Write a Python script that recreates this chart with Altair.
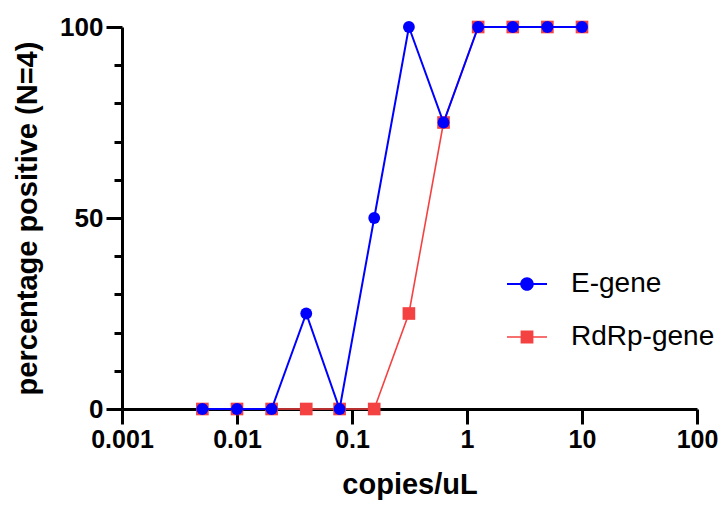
import altair as alt
import pandas as pd

conc = [0.005, 0.01, 0.02, 0.04, 0.078, 0.156, 0.3125, 0.625, 1.25, 2.5, 5, 10]
e_gene = [0, 0, 0, 25, 0, 50, 100, 75, 100, 100, 100, 100]
rdrp_gene = [0, 0, 0, 0, 0, 0, 25, 75, 100, 100, 100, 100]
series = ["E-gene", "RdRp-gene"]
colors = ["#0000FF", "#F44242"]
x_ticks = [0.001, 0.01, 0.1, 1, 10, 100]
y_ticks = [0, 10, 20, 30, 40, 50, 60, 70, 80, 90, 100]

df_e = pd.DataFrame({"conc": conc, "pct": e_gene, "series": "E-gene"})
df_r = pd.DataFrame({"conc": conc, "pct": rdrp_gene, "series": "RdRp-gene"})
df_all = pd.concat([df_e, df_r], ignore_index=True)

FONT = "Liberation Sans"

x_enc = alt.X(
    "conc:Q",
    scale=alt.Scale(type="log", domain=[0.001, 100]),
    axis=alt.Axis(
        title="copies/uL",
        values=x_ticks,
        labelExpr="datum.value >= 1 ? format(datum.value, 'd') : format(datum.value, '~g')",
        grid=False,
        ticks=True,
        domainColor="black",
        domainWidth=3,
        tickColor="black",
        tickWidth=3,
        tickSize=15,
        labelFont=FONT,
        labelFontSize=25,
        labelFontWeight="bold",
        labelColor="black",
        labelPadding=3,
        labelFlush=False,
        labelOverlap=False,
        titleFont=FONT,
        titleFontSize=29,
        titleFontWeight="bold",
        titleColor="black",
        titleBaseline="alphabetic",
        titleY=84,
    ),
)
y_enc = alt.Y(
    "pct:Q",
    scale=alt.Scale(domain=[0, 100], nice=False),
    axis=alt.Axis(
        title="percentage positive (N=4)",
        values=y_ticks,
        labelExpr="datum.value % 50 === 0 ? datum.label : ''",
        grid=False,
        ticks=True,
        domainColor="black",
        domainWidth=3,
        tickColor="black",
        tickWidth=3,
        tickSize={"condition": {"test": "datum.value % 50 === 0", "value": 16}, "value": 8},
        labelFont=FONT,
        labelFontSize=26,
        labelFontWeight="bold",
        labelColor="black",
        labelPadding=3,
        labelOverlap=False,
        titleFont=FONT,
        titleFontSize=29,
        titleFontWeight="bold",
        titleColor="black",
        titleX=-80,
    ),
)

red_line = alt.Chart(df_r).mark_line(color=colors[1], strokeWidth=1.6).encode(x=x_enc, y=y_enc)
red_pts = alt.Chart(df_r).mark_point(
    shape="square", filled=True, size=160, opacity=1, color=colors[1]
).encode(x=x_enc, y=y_enc)
blue_line = alt.Chart(df_e).mark_line(color=colors[0], strokeWidth=2).encode(x=x_enc, y=y_enc)
blue_pts = alt.Chart(df_e).mark_point(
    shape="circle", filled=True, size=140, opacity=1, color=colors[0]
).encode(x=x_enc, y=y_enc)

# legend symbols: horizontal line with marker
circle_sym = (
    "M-1,-0.05H-0.33V0.05H-1Z "
    "M0.33,-0.05H1V0.05H0.33Z "
    "M0.34,0A0.34,0.34 0 1,1 -0.34,0A0.34,0.34 0 1,1 0.34,0Z"
)
square_sym = (
    "M-1,-0.04H-0.32V0.04H-1Z "
    "M0.32,-0.04H1V0.04H0.32Z "
    "M-0.32,-0.32H0.32V0.32H-0.32Z"
)

legend_props = dict(
    title=None,
    orient="none",
    legendX=385,
    legendY=237,
    padding=0,
    rowPadding=19,
    labelOffset=24,
    labelFont=FONT,
    labelFontSize=28,
    labelColor="black",
    symbolStrokeWidth=0,
    symbolSize=1600,
    labelLimit=400,
)

legend_layer = alt.Chart(df_all).transform_filter("false").mark_point(
    filled=True, opacity=1, size=1600
).encode(
    x=x_enc,
    y=y_enc,
    color=alt.Color(
        "series:N",
        scale=alt.Scale(domain=series, range=colors),
        legend=alt.Legend(**legend_props),
    ),
    shape=alt.Shape(
        "series:N",
        scale=alt.Scale(domain=series, range=[circle_sym, square_sym]),
        legend=alt.Legend(**legend_props),
    ),
)

chart = (
    alt.layer(red_line, red_pts, blue_line, blue_pts, legend_layer)
    .properties(
        width=575,
        height=382,
        autosize=alt.AutoSizeParams(type="none"),
        padding={"left": 114, "top": 19, "right": 23, "bottom": 91},
        background="white",
    )
    .configure_view(stroke=None)
)

chart.save("out.html", embed_options={"renderer": "svg", "actions": False})
